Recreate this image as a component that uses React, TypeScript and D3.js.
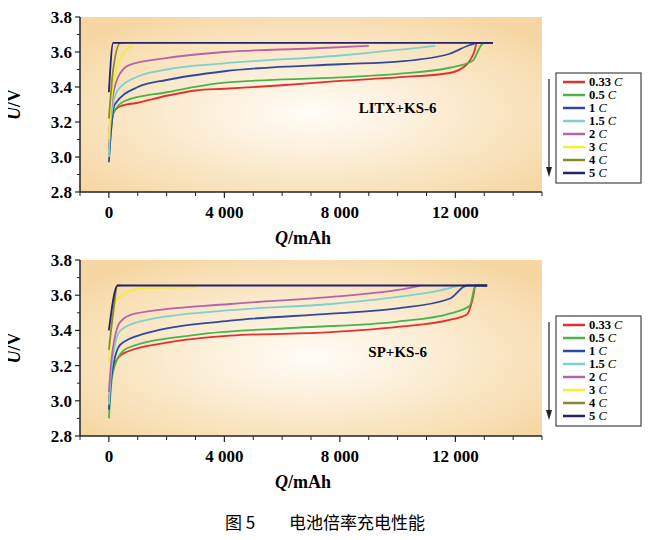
import * as d3 from "d3";

type Pt = [number, number];

const rates = ["0.33", "0.5", "1", "1.5", "2", "3", "4", "5"];
const colors = ["#e2312f", "#4bb34a", "#2e4a9c", "#7fcfcf", "#b863a8", "#f2ee3a", "#8a8a2e", "#25216e"];
const xTicks = [0, 4000, 8000, 12000];
const xTickLabels = ["0", "4 000", "8 000", "12 000"];
const yTicks = [2.8, 3.0, 3.2, 3.4, 3.6, 3.8];

// LITX+KS-6
const topSeries: Pt[][] = [
  [[0, 3.05], [60, 3.15], [150, 3.25], [400, 3.29], [1000, 3.31], [2000, 3.35], [3000, 3.38], [4000, 3.39], [6000, 3.41], [8000, 3.435], [10000, 3.455], [11800, 3.48], [12400, 3.53], [12650, 3.6], [12750, 3.652], [13300, 3.652]],
  [[0, 3.0], [60, 3.12], [150, 3.25], [550, 3.32], [2000, 3.37], [4000, 3.425], [8000, 3.455], [10000, 3.475], [11800, 3.51], [12600, 3.55], [12900, 3.64], [13000, 3.652], [13300, 3.652]],
  [[0, 2.97], [60, 3.12], [200, 3.3], [1000, 3.4], [2000, 3.44], [4000, 3.49], [8000, 3.53], [10000, 3.545], [11800, 3.59], [12500, 3.64], [12800, 3.652], [13300, 3.652]],
  [[0, 3.0], [60, 3.2], [300, 3.38], [1000, 3.46], [2000, 3.5], [4000, 3.535], [8000, 3.58], [11300, 3.635]],
  [[0, 3.1], [60, 3.25], [300, 3.45], [700, 3.525], [2000, 3.565], [4000, 3.6], [7000, 3.62], [9000, 3.635]],
  [[0, 3.1], [100, 3.35], [300, 3.52], [600, 3.61], [850, 3.64]],
  [[0, 3.22], [150, 3.5], [400, 3.652], [500, 3.652]],
  [[0, 3.37], [150, 3.652], [13300, 3.652]],
];

// SP+KS-6
const bottomSeries: Pt[][] = [
  [[0, 3.0], [100, 3.15], [300, 3.24], [650, 3.28], [2000, 3.33], [4200, 3.37], [7700, 3.39], [10000, 3.42], [11800, 3.46], [12400, 3.49], [12600, 3.58], [12700, 3.655], [13100, 3.655]],
  [[0, 2.9], [100, 3.12], [300, 3.24], [650, 3.3], [3000, 3.375], [6500, 3.415], [10000, 3.45], [11800, 3.495], [12500, 3.54], [12700, 3.655], [13100, 3.655]],
  [[0, 2.95], [100, 3.15], [400, 3.32], [1200, 3.38], [4200, 3.455], [7700, 3.495], [10000, 3.525], [11800, 3.58], [12400, 3.655], [13100, 3.655]],
  [[0, 2.98], [100, 3.2], [400, 3.4], [1200, 3.455], [4200, 3.515], [7700, 3.55], [10000, 3.59], [11800, 3.64], [12100, 3.655]],
  [[0, 3.05], [100, 3.25], [400, 3.45], [900, 3.495], [4200, 3.55], [7700, 3.59], [10000, 3.63], [10800, 3.655]],
  [[0, 3.22], [100, 3.45], [300, 3.58], [1200, 3.64], [3050, 3.645]],
  [[0, 3.29], [150, 3.5], [300, 3.655], [400, 3.655]],
  [[0, 3.4], [300, 3.655], [13100, 3.655]],
];

const serif = "'Liberation Serif', 'Times New Roman', serif";
const left = 80;
const right = 542;

function Panel({ series, top, bottom, label, id }: { series: Pt[][]; top: number; bottom: number; label: string; id: string }) {
  const x = d3.scaleLinear().domain([-1000, 15000]).range([left, right]);
  const y = d3.scaleLinear().domain([2.8, 3.8]).range([bottom, top]);
  const line = d3.line<Pt>().x((d) => x(d[0])).y((d) => y(d[1])).curve(d3.curveMonotoneX);
  const minorX = d3.range(-1000, 15001, 1000).filter((v) => !xTicks.includes(v));
  const minorY = d3.range(2.9, 3.8, 0.2);
  const legendTop = top + 56;
  return (
    <g>
      <defs>
        <radialGradient id={id} cx="50%" cy="55%" r="65%">
          <stop offset="0%" stopColor="#fffdf8" />
          <stop offset="100%" stopColor="#f6d7a3" />
        </radialGradient>
      </defs>
      <rect x={left} y={top} width={right - left} height={bottom - top} fill={`url(#${id})`} />
      {series.map((s, i) => (
        <path key={i} d={line(s) ?? ""} fill="none" stroke={colors[i]} strokeWidth={1.8} />
      ))}
      <line x1={left} x2={left} y1={top} y2={bottom} stroke="#222" strokeWidth={1.5} />
      <line x1={left} x2={right} y1={bottom} y2={bottom} stroke="#222" strokeWidth={1.5} />
      {yTicks.map((t) => (
        <g key={t}>
          <line x1={left - 5} x2={left} y1={y(t)} y2={y(t)} stroke="#222" strokeWidth={1.2} />
          <text x={left - 8} y={y(t)} dy="0.35em" textAnchor="end" fontFamily={serif} fontWeight="bold" fontSize={17}>{t.toFixed(1)}</text>
        </g>
      ))}
      {minorY.map((t) => (
        <line key={t} x1={left - 3} x2={left} y1={y(t)} y2={y(t)} stroke="#222" />
      ))}
      {xTicks.map((t, i) => (
        <g key={t}>
          <line x1={x(t)} x2={x(t)} y1={bottom} y2={bottom + 6} stroke="#222" strokeWidth={1.2} />
          <text x={x(t)} y={bottom + 26} textAnchor="middle" fontFamily={serif} fontWeight="bold" fontSize={17}>{xTickLabels[i]}</text>
        </g>
      ))}
      {minorX.map((t) => (
        <line key={t} x1={x(t)} x2={x(t)} y1={bottom} y2={bottom + 4} stroke="#222" />
      ))}
      <text x={(left + right) / 2 - 8} y={bottom + 52} textAnchor="middle" fontFamily={serif} fontWeight="bold" fontSize={18}>
        <tspan fontStyle="italic">Q</tspan>/mAh
      </text>
      <text transform={`translate(20,${(top + bottom) / 2}) rotate(-90)`} textAnchor="middle" fontFamily={serif} fontWeight="bold" fontSize={18}>
        <tspan fontStyle="italic">U</tspan>/V
      </text>
      <text x={x(10000)} y={y(3.25)} textAnchor="middle" fontFamily={serif} fontWeight="bold" fontSize={15}>{label}</text>
      <line x1={549} x2={549} y1={legendTop + 6} y2={legendTop + 100} stroke="#222" strokeWidth={1.2} />
      <path d={`M546,${legendTop + 94} L549,${legendTop + 104} L552,${legendTop + 94} Z`} fill="#222" />
      <rect x={556} y={legendTop} width={85} height={110} fill="#fff" stroke="#444" strokeWidth={1.2} />
      {rates.map((r, i) => (
        <g key={r}>
          <line x1={563} x2={585} y1={legendTop + 9 + i * 13} y2={legendTop + 9 + i * 13} stroke={colors[i]} strokeWidth={2.5} />
          <text x={589} y={legendTop + 9 + i * 13} dy="0.35em" fontFamily={serif} fontWeight="bold" fontSize={12.5}>
            {r} <tspan fontStyle="italic" fontWeight="normal">C</tspan>
          </text>
        </g>
      ))}
    </g>
  );
}

export default function App() {
  return (
    <svg width={650} height={540} style={{ display: "block", margin: "-8px" }}>
      <rect width={650} height={540} fill="#fff" />
      <Panel series={topSeries} top={17} bottom={192} label="LITX+KS-6" id="bg1" />
      <Panel series={bottomSeries} top={260} bottom={436} label="SP+KS-6" id="bg2" />
      <text x={325} y={529} textAnchor="middle" fontFamily="'Noto Sans CJK SC', sans-serif" fontSize={17}>图 5　　电池倍率充电性能</text>
    </svg>
  );
}
